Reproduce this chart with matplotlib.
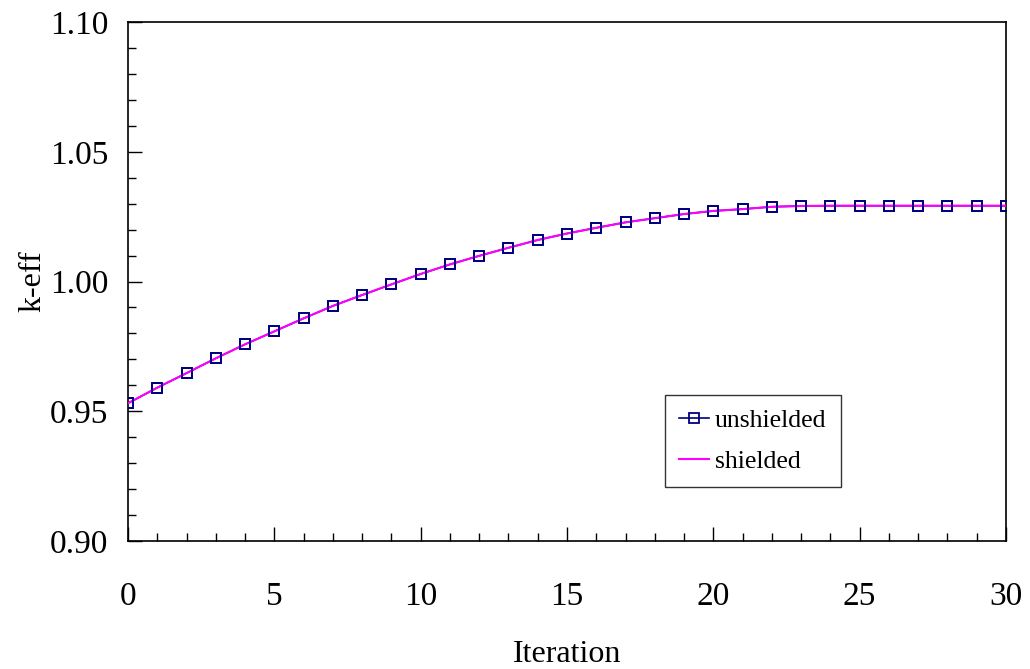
import numpy as np
import matplotlib.pyplot as plt
from matplotlib.ticker import MultipleLocator

plt.rcParams['font.family'] = ['Liberation Serif', 'DejaVu Serif']

iteration = list(range(31))
keff_unshielded = [0.9531, 0.9591, 0.9647, 0.9704, 0.9758, 0.9808, 0.9858, 0.9906,
                   0.9948, 0.9989, 1.0029, 1.0066, 1.0099, 1.0130, 1.0160, 1.0185,
                   1.0207, 1.0228, 1.0244, 1.0260, 1.0272, 1.0279, 1.0288, 1.0291,
                   1.0292, 1.0292, 1.0292, 1.0292, 1.0292, 1.0292, 1.0292]
keff_shielded = [0.9531, 0.9591, 0.9647, 0.9704, 0.9758, 0.9808, 0.9858, 0.9906,
                 0.9948, 0.9989, 1.0029, 1.0066, 1.0099, 1.0130, 1.0160, 1.0185,
                 1.0207, 1.0228, 1.0244, 1.0260, 1.0272, 1.0279, 1.0288, 1.0291,
                 1.0292, 1.0292, 1.0292, 1.0292, 1.0292, 1.0292, 1.0292]

fig = plt.figure(figsize=(10.3, 6.69), dpi=100)
ax = fig.add_axes([0.1243, 0.1913, 0.8524, 0.7758])

ax.plot(iteration, keff_unshielded, color='#000080', lw=1.2, marker='s', markersize=7,
        markerfacecolor='none', markeredgecolor='#000080', markeredgewidth=1.3,
        label='unshielded', zorder=2)
ax.plot(iteration, keff_shielded, color='#ff00ff', lw=1.5, label='shielded', zorder=3)
# redraw markers on top of the magenta line
ax.plot(iteration, keff_unshielded, ls='none', marker='s', markersize=7,
        markerfacecolor='none', markeredgecolor='#000080', markeredgewidth=1.3, zorder=4)

ax.set_xlim(0, 30)
ax.set_ylim(0.90, 1.10)
ax.xaxis.set_major_locator(MultipleLocator(5))
ax.xaxis.set_minor_locator(MultipleLocator(1))
ax.yaxis.set_major_locator(MultipleLocator(0.05))
ax.yaxis.set_minor_locator(MultipleLocator(0.01))
ax.yaxis.set_major_formatter(plt.FormatStrFormatter('%.2f'))

ax.tick_params(which='major', direction='in', length=10, width=1, labelsize=24)
ax.tick_params(which='minor', direction='in', length=6, width=1)
ax.tick_params(axis='y', which='major', pad=14)
ax.tick_params(axis='x', which='major', pad=29)
ax.tick_params(axis='x', which='both', top=False)
ax.tick_params(axis='y', which='both', right=False)

for s in ax.spines.values():
    s.set_linewidth(1.2)

ax.set_xlabel('Iteration', fontsize=23, labelpad=20)
ax.set_ylabel('k-eff', fontsize=23, labelpad=2)

leg = ax.legend(loc='lower left', bbox_to_anchor=(0.6116, 0.104), fontsize=18.5,
                frameon=True, fancybox=False, edgecolor='black', handlelength=1.15,
                handletextpad=0.25, borderpad=0.55, labelspacing=0.7, borderaxespad=0)
leg.get_frame().set_linewidth(1.0)

fig.savefig('out.png', dpi=100)
